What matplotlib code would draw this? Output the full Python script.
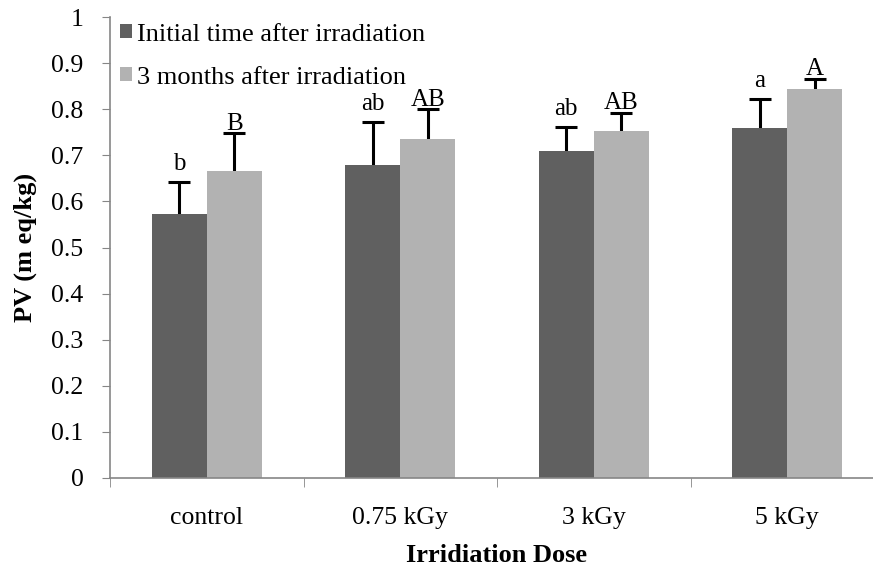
import matplotlib
matplotlib.use("Agg")
import matplotlib.pyplot as plt
import numpy as np

categories = ["control", "0.75 kGy", "3 kGy", "5 kGy"]
initial = [0.573, 0.68, 0.709, 0.76]
initial_err = [0.07, 0.092, 0.052, 0.062]
months3 = [0.666, 0.735, 0.752, 0.844]
months3_err = [0.082, 0.065, 0.04, 0.022]
initial_letters = ["b", "ab", "ab", "a"]
months3_letters = ["B", "AB", "AB", "A"]
series_names = ["Initial time after irradiation", "3 months after irradiation"]
yticks = [0, 0.1, 0.2, 0.3, 0.4, 0.5, 0.6, 0.7, 0.8, 0.9, 1]

plt.rcParams['font.family'] = ['Liberation Serif', 'DejaVu Serif']

fig = plt.figure(figsize=(8.73, 5.68), dpi=100)
ax = fig.add_axes([110/873, 1-478/568, 774/873, 461/568])

x = np.arange(len(categories))
w = 0.284
dark = "#606060"
light = "#b2b2b2"

ax.bar(x - w/2, initial, w, color=dark, label=series_names[0], zorder=2)
ax.bar(x + w/2, months3, w, color=light, label=series_names[1], zorder=2)

ax.errorbar(x - w/2, initial, yerr=initial_err, fmt='none',
            ecolor='black', elinewidth=2.2, capsize=8, capthick=2.2, zorder=1)
ax.errorbar(x + w/2, months3, yerr=months3_err, fmt='none',
            ecolor='black', elinewidth=2.2, capsize=8, capthick=2.2, zorder=1)

for i in range(len(categories)):
    ax.annotate(initial_letters[i], (x[i] - w/2, initial[i] + initial_err[i]),
                xytext=(0, 5), textcoords='offset points', ha='center', va='bottom', fontsize=18)
    ax.annotate(months3_letters[i], (x[i] + w/2, months3[i] + months3_err[i]),
                xytext=(0, -1), textcoords='offset points', ha='center', va='bottom', fontsize=18)

ax.set_xlim(-0.5, 3.5)
ax.set_ylim(0, 1)
ax.set_yticks(yticks)
ax.set_yticklabels([("%g" % v) for v in yticks], fontsize=18.5)
ax.set_xticks(x)
ax.set_xticklabels(categories, fontsize=18.5)
ax.set_xticks(np.arange(-0.5, 4.0, 1.0), minor=True)
ax.tick_params(axis='x', which='major', length=0, pad=21)
ax.tick_params(axis='x', which='minor', length=6.5, color='#868686', direction='out')
ax.tick_params(axis='y', length=6, color='#868686', direction='out', pad=13)

for s in ['top', 'right']:
    ax.spines[s].set_visible(False)
for s in ['left', 'bottom']:
    ax.spines[s].set_color('#868686')
    ax.spines[s].set_linewidth(1.2)

ax.set_ylabel("PV (m eq/kg)", fontsize=19, fontweight='bold', labelpad=10)
ax.set_xlabel("Irridiation Dose", fontsize=19, fontweight='bold', labelpad=11)

leg = ax.legend(loc='upper left', bbox_to_anchor=(-0.008, 1.02), frameon=False, fontsize=19,
                handlelength=0.45, handleheight=0.45, handletextpad=0.2, labelspacing=0.8,
                borderaxespad=0.3, borderpad=0.3)

fig.savefig("out.png", dpi=100)
